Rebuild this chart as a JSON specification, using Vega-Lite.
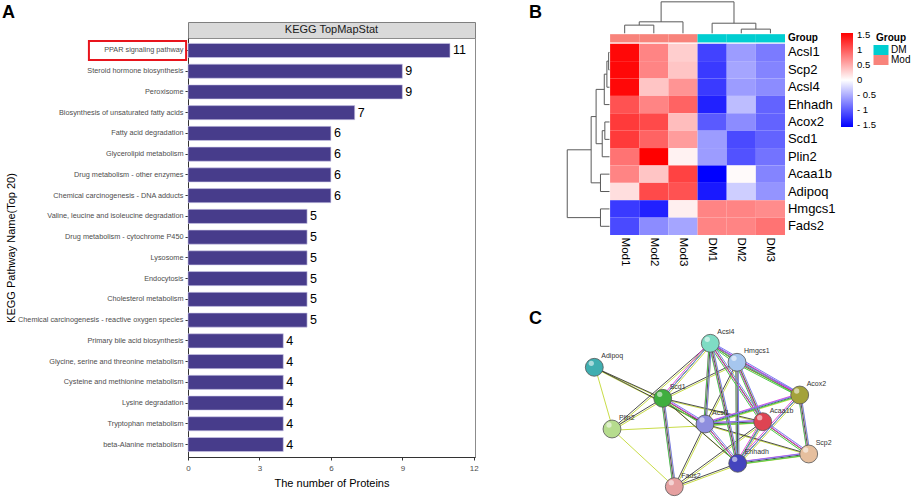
{
  "$schema": "https://vega.github.io/schema/vega-lite/v6.json",
  "padding": {"left": 1, "top": 1, "right": 0, "bottom": 0},
  "bounds": "full",
  "spacing": 50,
  "resolve": {"scale": {"x": "independent", "y": "independent", "color": "independent"}},
  "config": {
    "font": "Liberation Sans",
    "view": {"stroke": null},
    "axis": {"grid": false},
    "title": {"fontWeight": "bold", "anchor": "start", "frame": "group", "color": "#000"}
  },
  "datasets": {
    "kegg": [
      {"pathway": "PPAR signaling pathway", "count": 11},
      {"pathway": "Steroid hormone biosynthesis", "count": 9},
      {"pathway": "Peroxisome", "count": 9},
      {"pathway": "Biosynthesis of unsaturated fatty acids", "count": 7},
      {"pathway": "Fatty acid degradation", "count": 6},
      {"pathway": "Glycerolipid metabolism", "count": 6},
      {"pathway": "Drug metabolism - other enzymes", "count": 6},
      {"pathway": "Chemical carcinogenesis - DNA adducts", "count": 6},
      {"pathway": "Valine, leucine and isoleucine degradation", "count": 5},
      {"pathway": "Drug metabolism - cytochrome P450", "count": 5},
      {"pathway": "Lysosome", "count": 5},
      {"pathway": "Endocytosis", "count": 5},
      {"pathway": "Cholesterol metabolism", "count": 5},
      {"pathway": "Chemical carcinogenesis - reactive oxygen species", "count": 5},
      {"pathway": "Primary bile acid biosynthesis", "count": 4},
      {"pathway": "Glycine, serine and threonine metabolism", "count": 4},
      {"pathway": "Cysteine and methionine metabolism", "count": 4},
      {"pathway": "Lysine degradation", "count": 4},
      {"pathway": "Tryptophan metabolism", "count": 4},
      {"pathway": "beta-Alanine metabolism", "count": 4}
    ],
    "samples": [
      {"sample": "Mod1", "group": "Mod", "x0": 0, "x1": 1, "xc": 0.5},
      {"sample": "Mod2", "group": "Mod", "x0": 1, "x1": 2, "xc": 1.5},
      {"sample": "Mod3", "group": "Mod", "x0": 2, "x1": 3, "xc": 2.5},
      {"sample": "DM1", "group": "DM", "x0": 3, "x1": 4, "xc": 3.5},
      {"sample": "DM2", "group": "DM", "x0": 4, "x1": 5, "xc": 4.5},
      {"sample": "DM3", "group": "DM", "x0": 5, "x1": 6, "xc": 5.5}
    ],
    "genes": [
      {"gene": "Acsl1", "y0": 0, "y1": 1, "yc": 0.5},
      {"gene": "Scp2", "y0": 1, "y1": 2, "yc": 1.5},
      {"gene": "Acsl4", "y0": 2, "y1": 3, "yc": 2.5},
      {"gene": "Ehhadh", "y0": 3, "y1": 4, "yc": 3.5},
      {"gene": "Acox2", "y0": 4, "y1": 5, "yc": 4.5},
      {"gene": "Scd1", "y0": 5, "y1": 6, "yc": 5.5},
      {"gene": "Plin2", "y0": 6, "y1": 7, "yc": 6.5},
      {"gene": "Acaa1b", "y0": 7, "y1": 8, "yc": 7.5},
      {"gene": "Adipoq", "y0": 8, "y1": 9, "yc": 8.5},
      {"gene": "Hmgcs1", "y0": 9, "y1": 10, "yc": 9.5},
      {"gene": "Fads2", "y0": 10, "y1": 11, "yc": 10.5}
    ],
    "heat": [
      {"gene": "Acsl1", "sample": "Mod1", "z": 1.5}, {"gene": "Acsl1", "sample": "Mod2", "z": 0.75}, {"gene": "Acsl1", "sample": "Mod3", "z": 0.3}, {"gene": "Acsl1", "sample": "DM1", "z": -1.15}, {"gene": "Acsl1", "sample": "DM2", "z": -0.6}, {"gene": "Acsl1", "sample": "DM3", "z": -0.8},
      {"gene": "Scp2", "sample": "Mod1", "z": 1.5}, {"gene": "Scp2", "sample": "Mod2", "z": 0.75}, {"gene": "Scp2", "sample": "Mod3", "z": 0.35}, {"gene": "Scp2", "sample": "DM1", "z": -1.2}, {"gene": "Scp2", "sample": "DM2", "z": -0.55}, {"gene": "Scp2", "sample": "DM3", "z": -0.75},
      {"gene": "Acsl4", "sample": "Mod1", "z": 1.5}, {"gene": "Acsl4", "sample": "Mod2", "z": 0.35}, {"gene": "Acsl4", "sample": "Mod3", "z": 0.65}, {"gene": "Acsl4", "sample": "DM1", "z": -1.2}, {"gene": "Acsl4", "sample": "DM2", "z": -0.6}, {"gene": "Acsl4", "sample": "DM3", "z": -0.7},
      {"gene": "Ehhadh", "sample": "Mod1", "z": 1.05}, {"gene": "Ehhadh", "sample": "Mod2", "z": 0.75}, {"gene": "Ehhadh", "sample": "Mod3", "z": 0.95}, {"gene": "Ehhadh", "sample": "DM1", "z": -1.35}, {"gene": "Ehhadh", "sample": "DM2", "z": -0.4}, {"gene": "Ehhadh", "sample": "DM3", "z": -0.95},
      {"gene": "Acox2", "sample": "Mod1", "z": 1.2}, {"gene": "Acox2", "sample": "Mod2", "z": 1.1}, {"gene": "Acox2", "sample": "Mod3", "z": 0.4}, {"gene": "Acox2", "sample": "DM1", "z": -1.0}, {"gene": "Acox2", "sample": "DM2", "z": -0.7}, {"gene": "Acox2", "sample": "DM3", "z": -0.95},
      {"gene": "Scd1", "sample": "Mod1", "z": 1.2}, {"gene": "Scd1", "sample": "Mod2", "z": 0.95}, {"gene": "Scd1", "sample": "Mod3", "z": 0.6}, {"gene": "Scd1", "sample": "DM1", "z": -0.6}, {"gene": "Scd1", "sample": "DM2", "z": -1.1}, {"gene": "Scd1", "sample": "DM3", "z": -0.95},
      {"gene": "Plin2", "sample": "Mod1", "z": 0.85}, {"gene": "Plin2", "sample": "Mod2", "z": 1.55}, {"gene": "Plin2", "sample": "Mod3", "z": 0.08}, {"gene": "Plin2", "sample": "DM1", "z": -0.6}, {"gene": "Plin2", "sample": "DM2", "z": -1.05}, {"gene": "Plin2", "sample": "DM3", "z": -0.85},
      {"gene": "Acaa1b", "sample": "Mod1", "z": 0.75}, {"gene": "Acaa1b", "sample": "Mod2", "z": 0.35}, {"gene": "Acaa1b", "sample": "Mod3", "z": 1.15}, {"gene": "Acaa1b", "sample": "DM1", "z": -1.55}, {"gene": "Acaa1b", "sample": "DM2", "z": 0.03}, {"gene": "Acaa1b", "sample": "DM3", "z": -0.75},
      {"gene": "Adipoq", "sample": "Mod1", "z": 0.2}, {"gene": "Adipoq", "sample": "Mod2", "z": 1.1}, {"gene": "Adipoq", "sample": "Mod3", "z": 1.05}, {"gene": "Adipoq", "sample": "DM1", "z": -1.4}, {"gene": "Adipoq", "sample": "DM2", "z": -0.3}, {"gene": "Adipoq", "sample": "DM3", "z": -0.65},
      {"gene": "Hmgcs1", "sample": "Mod1", "z": -1.2}, {"gene": "Hmgcs1", "sample": "Mod2", "z": -1.35}, {"gene": "Hmgcs1", "sample": "Mod3", "z": 0.1}, {"gene": "Hmgcs1", "sample": "DM1", "z": 0.75}, {"gene": "Hmgcs1", "sample": "DM2", "z": 0.75}, {"gene": "Hmgcs1", "sample": "DM3", "z": 0.7},
      {"gene": "Fads2", "sample": "Mod1", "z": -1.1}, {"gene": "Fads2", "sample": "Mod2", "z": -0.7}, {"gene": "Fads2", "sample": "Mod3", "z": -0.55}, {"gene": "Fads2", "sample": "DM1", "z": 0.75}, {"gene": "Fads2", "sample": "DM2", "z": 0.75}, {"gene": "Fads2", "sample": "DM3", "z": 0.85}
    ],
    "dendro": [
      {"x": -0.05, "y": 0.5, "x2": -0.02, "y2": 0.5},
      {"x": -0.05, "y": 1.5, "x2": -0.02, "y2": 1.5},
      {"x": -0.05, "y": 0.5, "x2": -0.05, "y2": 1.5},
      {"x": -0.11, "y": 1.0, "x2": -0.05, "y2": 1.0},
      {"x": -0.11, "y": 2.5, "x2": -0.02, "y2": 2.5},
      {"x": -0.11, "y": 1.0, "x2": -0.11, "y2": 2.5},
      {"x": -0.2, "y": 1.75, "x2": -0.11, "y2": 1.75},
      {"x": -0.2, "y": 3.5, "x2": -0.02, "y2": 3.5},
      {"x": -0.2, "y": 1.75, "x2": -0.2, "y2": 3.5},
      {"x": -0.18, "y": 4.5, "x2": -0.02, "y2": 4.5},
      {"x": -0.18, "y": 5.5, "x2": -0.02, "y2": 5.5},
      {"x": -0.18, "y": 4.5, "x2": -0.18, "y2": 5.5},
      {"x": -0.27, "y": 5.0, "x2": -0.18, "y2": 5.0},
      {"x": -0.27, "y": 6.5, "x2": -0.02, "y2": 6.5},
      {"x": -0.27, "y": 5.0, "x2": -0.27, "y2": 6.5},
      {"x": -0.48, "y": 2.625, "x2": -0.2, "y2": 2.625},
      {"x": -0.48, "y": 5.75, "x2": -0.27, "y2": 5.75},
      {"x": -0.48, "y": 2.625, "x2": -0.48, "y2": 5.75},
      {"x": -0.33, "y": 7.5, "x2": -0.02, "y2": 7.5},
      {"x": -0.33, "y": 8.5, "x2": -0.02, "y2": 8.5},
      {"x": -0.33, "y": 7.5, "x2": -0.33, "y2": 8.5},
      {"x": -0.65, "y": 4.19, "x2": -0.48, "y2": 4.19},
      {"x": -0.65, "y": 8.0, "x2": -0.33, "y2": 8.0},
      {"x": -0.65, "y": 4.19, "x2": -0.65, "y2": 8.0},
      {"x": -0.33, "y": 9.5, "x2": -0.02, "y2": 9.5},
      {"x": -0.33, "y": 10.5, "x2": -0.02, "y2": 10.5},
      {"x": -0.33, "y": 9.5, "x2": -0.33, "y2": 10.5},
      {"x": -1.47, "y": 6.1, "x2": -0.65, "y2": 6.1},
      {"x": -1.47, "y": 10.0, "x2": -0.33, "y2": 10.0},
      {"x": -1.47, "y": 6.1, "x2": -1.47, "y2": 10.0},
      {"x": 0.5, "y": -1.07, "x2": 0.5, "y2": -0.6},
      {"x": 1.5, "y": -1.07, "x2": 1.5, "y2": -0.6},
      {"x": 0.5, "y": -1.07, "x2": 1.5, "y2": -1.07},
      {"x": 1.0, "y": -1.26, "x2": 1.0, "y2": -1.07},
      {"x": 2.5, "y": -1.26, "x2": 2.5, "y2": -0.6},
      {"x": 1.0, "y": -1.26, "x2": 2.5, "y2": -1.26},
      {"x": 4.5, "y": -0.84, "x2": 4.5, "y2": -0.6},
      {"x": 5.5, "y": -0.84, "x2": 5.5, "y2": -0.6},
      {"x": 4.5, "y": -0.84, "x2": 5.5, "y2": -0.84},
      {"x": 5.0, "y": -1.18, "x2": 5.0, "y2": -0.84},
      {"x": 3.5, "y": -1.18, "x2": 3.5, "y2": -0.6},
      {"x": 3.5, "y": -1.18, "x2": 5.0, "y2": -1.18},
      {"x": 1.75, "y": -2.41, "x2": 1.75, "y2": -1.26},
      {"x": 4.25, "y": -2.41, "x2": 4.25, "y2": -1.18},
      {"x": 1.75, "y": -2.41, "x2": 4.25, "y2": -2.41}
    ],
    "nodes": [
      {"gene": "Acsl4", "x": 148.3, "y": 13.3},
      {"gene": "Hmgcs1", "x": 175, "y": 32.3},
      {"gene": "Adipoq", "x": 32.3, "y": 37.3},
      {"gene": "Acox2", "x": 237.7, "y": 65},
      {"gene": "Scd1", "x": 100.7, "y": 68.3},
      {"gene": "Acaa1b", "x": 200.7, "y": 91.7},
      {"gene": "Acsl1", "x": 143, "y": 94},
      {"gene": "Plin2", "x": 50, "y": 99},
      {"gene": "Scp2", "x": 246.7, "y": 124},
      {"gene": "Ehhadh", "x": 175.7, "y": 133.3},
      {"gene": "Fads2", "x": 112.3, "y": 156.7}
    ],
    "edges": [
      {"a": "Adipoq", "b": "Plin2", "kind": "text"},
      {"a": "Plin2", "b": "Fads2", "kind": "text"},
      {"a": "Plin2", "b": "Acaa1b", "kind": "text"},
      {"a": "Adipoq", "b": "Scd1", "kind": "dark"},
      {"a": "Adipoq", "b": "Acsl1", "kind": "dark"},
      {"a": "Plin2", "b": "Scd1", "kind": "dark"},
      {"a": "Plin2", "b": "Acsl4", "kind": "dark"},
      {"a": "Scd1", "b": "Hmgcs1", "kind": "dark"},
      {"a": "Acsl1", "b": "Hmgcs1", "kind": "dark"},
      {"a": "Acsl1", "b": "Scp2", "kind": "dark"},
      {"a": "Acsl1", "b": "Fads2", "kind": "dark"},
      {"a": "Acaa1b", "b": "Fads2", "kind": "dark"},
      {"a": "Ehhadh", "b": "Fads2", "kind": "dark"},
      {"a": "Scd1", "b": "Acaa1b", "kind": "dark"},
      {"a": "Scd1", "b": "Ehhadh", "kind": "dark"},
      {"a": "Scd1", "b": "Acsl4", "kind": "multi"},
      {"a": "Scd1", "b": "Acsl1", "kind": "multi"},
      {"a": "Scd1", "b": "Fads2", "kind": "multi"},
      {"a": "Acsl4", "b": "Hmgcs1", "kind": "multi"},
      {"a": "Acsl4", "b": "Acsl1", "kind": "multi"},
      {"a": "Acsl4", "b": "Ehhadh", "kind": "multi"},
      {"a": "Acsl4", "b": "Acaa1b", "kind": "multi"},
      {"a": "Acsl4", "b": "Acox2", "kind": "multi"},
      {"a": "Hmgcs1", "b": "Acox2", "kind": "multi"},
      {"a": "Hmgcs1", "b": "Acaa1b", "kind": "multi"},
      {"a": "Hmgcs1", "b": "Ehhadh", "kind": "multi"},
      {"a": "Acox2", "b": "Acsl1", "kind": "multi"},
      {"a": "Acox2", "b": "Ehhadh", "kind": "multi"},
      {"a": "Acox2", "b": "Scp2", "kind": "multi"},
      {"a": "Acsl1", "b": "Acaa1b", "kind": "multi"},
      {"a": "Acsl1", "b": "Ehhadh", "kind": "multi"},
      {"a": "Acaa1b", "b": "Ehhadh", "kind": "multi"},
      {"a": "Acaa1b", "b": "Scp2", "kind": "multi"},
      {"a": "Ehhadh", "b": "Scp2", "kind": "multi"}
    ]
  },
  "hconcat": [
    {
      "bounds": "flush",
      "spacing": 0,
      "vconcat": [
        {
          "width": 287,
          "height": 16,
          "title": {"text": "A", "fontSize": 18, "dx": -186, "offset": 0},
          "view": {"fill": "#D9D9D9", "stroke": "#7F7F7F", "strokeWidth": 1},
          "data": {"values": [{"t": "KEGG TopMapStat"}]},
          "mark": {"type": "text", "fontSize": 11, "color": "#1A1A1A", "baseline": "middle"},
          "encoding": {"text": {"field": "t"}}
        },
        {
          "width": 287,
          "height": 419,
          "view": {"stroke": "#8C8C8C"},
          "data": {"name": "kegg"},
          "encoding": {
            "y": {
              "field": "pathway", "type": "nominal", "sort": null,
              "scale": {"paddingInner": 0.32, "paddingOuter": 0.26},
              "axis": {"title": "KEGG Pathway Name(Top 20)", "labelFontSize": 7.3, "labelColor": "#4D4D4D", "labelLimit": 300, "tickSize": 3, "tickColor": "#333333", "domainColor": "#333333", "labelPadding": 2, "titleFontSize": 11, "titleFontWeight": "normal", "titleColor": "#000000", "titlePadding": 1}
            },
            "x": {
              "field": "count", "type": "quantitative",
              "scale": {"domain": [0, 12.05], "nice": false},
              "axis": {"values": [0, 3, 6, 9, 12], "format": "d", "title": "The number of Proteins", "labelFontSize": 8, "labelColor": "#4D4D4D", "tickSize": 3, "tickColor": "#333333", "domainColor": "#333333", "labelPadding": 4, "labelFlush": false, "titleFontSize": 11, "titleFontWeight": "normal", "titleColor": "#000000", "titlePadding": 5}
            }
          },
          "layer": [
            {"mark": {"type": "bar", "color": "#473C8B", "stroke": "#CFCBEA", "strokeWidth": 0.6}},
            {"mark": {"type": "text", "align": "left", "baseline": "middle", "dx": 3, "fontSize": 12.5, "color": "#000000"}, "encoding": {"text": {"field": "count"}}},
            {
              "transform": [{"filter": "datum.pathway === 'PPAR signaling pathway'"}],
              "mark": {"type": "rect", "fillOpacity": 0, "stroke": "#E8141C", "strokeWidth": 2, "height": {"band": 1.35}},
              "encoding": {"x": {"datum": -4.16, "type": "quantitative"}, "x2": {"datum": -0.08}}
            }
          ]
        }
      ]
    },
    {
      "bounds": "flush",
      "spacing": 95,
      "resolve": {"scale": {"x": "independent", "y": "independent", "color": "independent"}},
      "vconcat": [
        {
          "width": 223,
          "height": 213,
          "title": {"text": "B", "fontSize": 18, "dx": -33, "offset": -20.7},
          "resolve": {"scale": {"color": "independent"}},
          "layer": [
            {
              "data": {"name": "dendro"},
              "mark": {"type": "rule", "color": "#5A5A5A", "strokeWidth": 1},
              "encoding": {
                "x": {"field": "x", "type": "quantitative", "scale": {"domain": [-1.65, 6], "nice": false, "zero": false}, "axis": null},
                "y": {"field": "y", "type": "quantitative", "scale": {"domain": [-1.25, 11], "reverse": true, "nice": false, "zero": false}, "axis": null},
                "x2": {"field": "x2"},
                "y2": {"field": "y2"}
              }
            },
            {
              "data": {"name": "heat"},
              "transform": [
                {"lookup": "sample", "from": {"data": {"name": "samples"}, "key": "sample", "fields": ["x0", "x1"]}},
                {"lookup": "gene", "from": {"data": {"name": "genes"}, "key": "gene", "fields": ["y0", "y1"]}}
              ],
              "mark": {"type": "rect"},
              "encoding": {
                "x": {"field": "x0", "type": "quantitative", "scale": {"domain": [-1.65, 6], "nice": false, "zero": false}, "axis": null},
                "x2": {"field": "x1"},
                "y": {"field": "y0", "type": "quantitative", "scale": {"domain": [-1.25, 11], "reverse": true, "nice": false, "zero": false}, "axis": null},
                "y2": {"field": "y1"},
                "color": {
                  "field": "z", "type": "quantitative",
                  "scale": {"domain": [-1.55, 0, 1.55], "range": ["#0000FF", "#FFFFFF", "#FF0000"], "interpolate": "rgb"},
                  "legend": {"title": null, "orient": "none", "legendX": 279, "legendY": 11, "direction": "vertical", "gradientLength": 94, "gradientThickness": 12, "gradientStrokeWidth": 0, "values": [1.5, 1, 0.5, 0, -0.5, -1, -1.5], "labelExpr": "datum.value < 0 ? '- ' + (-datum.value) : '' + datum.value", "labelFontSize": 9.5, "labelOverlap": false, "labelOffset": 4, "labelColor": "#000000"}
                }
              }
            },
            {
              "data": {"name": "samples"},
              "mark": {"type": "rect"},
              "encoding": {
                "x": {"field": "x0", "type": "quantitative"},
                "x2": {"field": "x1"},
                "y": {"datum": -0.55, "type": "quantitative"},
                "y2": {"datum": -0.075},
                "color": {
                  "field": "group", "type": "nominal",
                  "scale": {"domain": ["DM", "Mod"], "range": ["#00CED1", "#F8837B"]},
                  "legend": {"title": "Group", "orient": "none", "legendX": 314, "legendY": 11, "titleFontSize": 10, "titleFontWeight": "bold", "titleColor": "#000000", "titlePadding": 2, "labelFontSize": 10, "labelColor": "#000000", "symbolType": "M-1.5,-1H1.5V1H-1.5Z", "symbolSize": 100, "symbolStrokeWidth": 0, "symbolOpacity": 1, "labelOffset": 5, "rowPadding": 0}
                }
              }
            },
            {
              "data": {"name": "genes"},
              "mark": {"type": "text", "align": "left", "baseline": "middle", "fontSize": 13, "color": "#000000"},
              "encoding": {
                "x": {"datum": 6.1, "type": "quantitative"},
                "y": {"field": "yc", "type": "quantitative"},
                "text": {"field": "gene"}
              }
            },
            {
              "data": {"name": "samples"},
              "mark": {"type": "text", "align": "left", "baseline": "middle", "angle": 90, "fontSize": 11.5, "color": "#000000"},
              "encoding": {
                "x": {"field": "xc", "type": "quantitative"},
                "y": {"datum": 11.15, "type": "quantitative"},
                "text": {"field": "sample"}
              }
            },
            {
              "data": {"values": [{"t": "Group"}]},
              "mark": {"type": "text", "align": "left", "baseline": "middle", "fontSize": 10, "fontWeight": "bold", "color": "#000000"},
              "encoding": {
                "x": {"datum": 6.1, "type": "quantitative"},
                "y": {"datum": -0.31, "type": "quantitative"},
                "text": {"field": "t"}
              }
            }
          ]
        },
        {
          "width": 270,
          "height": 170,
          "title": {"text": "C", "fontSize": 18, "dx": -33, "offset": 0},
          "layer": [
            {
              "data": {"name": "edges"},
              "transform": [
                {"lookup": "a", "from": {"data": {"name": "nodes"}, "key": "gene", "fields": ["x", "y"]}, "as": ["ax", "ay"]},
                {"lookup": "b", "from": {"data": {"name": "nodes"}, "key": "gene", "fields": ["x", "y"]}, "as": ["bx", "by"]}
              ],
              "encoding": {
                "x": {"field": "ax", "type": "quantitative", "scale": {"domain": [0, 270], "nice": false, "zero": false}, "axis": null},
                "y": {"field": "ay", "type": "quantitative", "scale": {"domain": [0, 170], "reverse": true, "nice": false, "zero": false}, "axis": null},
                "x2": {"field": "bx"},
                "y2": {"field": "by"}
              },
              "layer": [
                {"mark": {"type": "rule", "color": "#C9DD48", "strokeWidth": 1, "xOffset": 1.2, "yOffset": 1.2, "x2Offset": 1.2, "y2Offset": 1.2}},
                {"transform": [{"filter": "datum.kind !== 'text'"}], "mark": {"type": "rule", "color": "#3A3A3A", "strokeWidth": 0.9}},
                {"transform": [{"filter": "datum.kind === 'multi'"}], "mark": {"type": "rule", "color": "#E048E0", "strokeWidth": 1, "xOffset": -1.2, "yOffset": -1.2, "x2Offset": -1.2, "y2Offset": -1.2}},
                {"transform": [{"filter": "datum.kind === 'multi'"}], "mark": {"type": "rule", "color": "#4CC84C", "strokeWidth": 1, "xOffset": -1.2, "yOffset": 1.2, "x2Offset": -1.2, "y2Offset": 1.2}},
                {"transform": [{"filter": "datum.kind === 'multi'"}], "mark": {"type": "rule", "color": "#7C7CF0", "strokeWidth": 1, "xOffset": 1.2, "yOffset": -1.2, "x2Offset": 1.2, "y2Offset": -1.2}}
              ]
            },
            {
              "data": {"name": "nodes"},
              "encoding": {
                "x": {"field": "x", "type": "quantitative"},
                "y": {"field": "y", "type": "quantitative"}
              },
              "layer": [
                {
                  "mark": {"type": "point", "filled": true, "size": 320, "stroke": "#555555", "strokeWidth": 0.8, "opacity": 1},
                  "encoding": {
                    "color": {
                      "field": "gene", "type": "nominal",
                      "scale": {
                        "domain": ["Acsl4", "Hmgcs1", "Adipoq", "Acox2", "Scd1", "Acaa1b", "Acsl1", "Plin2", "Scp2", "Ehhadh", "Fads2"],
                        "range": ["#7FDCC4", "#A6C6EE", "#3FAEB0", "#A3A23A", "#3FAE3F", "#DE4452", "#8E8EDE", "#B6DC8E", "#E6BF9E", "#4444BE", "#E6A0A0"]
                      },
                      "legend": null
                    }
                  }
                },
                {"mark": {"type": "point", "filled": true, "size": 28, "color": "#FFFFFF", "opacity": 0.55, "xOffset": -3, "yOffset": -4}},
                {"mark": {"type": "text", "align": "left", "baseline": "middle", "dx": 7, "dy": -11, "fontSize": 7, "color": "#333333"}, "encoding": {"text": {"field": "gene"}}}
              ]
            }
          ]
        }
      ]
    }
  ]
}
